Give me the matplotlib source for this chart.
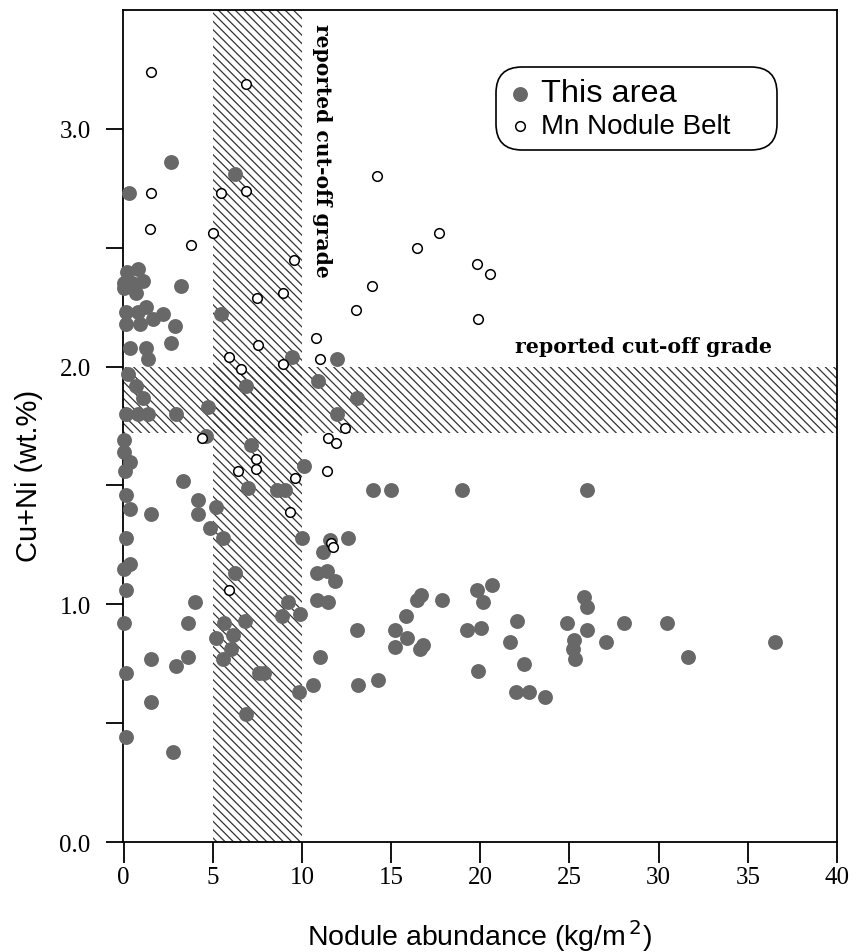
import matplotlib
matplotlib.use("Agg")
import matplotlib.pyplot as plt
from matplotlib.ticker import FixedLocator

plt.rcParams['font.family'] = ['Liberation Sans', 'DejaVu Sans']
plt.rcParams['hatch.linewidth'] = 0.9

# "This area" samples (nodule abundance kg/m2, Cu+Ni wt.%)
this_x = [2.64, 6.25, 0.28, 3.24,
          0.2, 0.8, 1.1, 0.5, 0.05, 0.7, 0.0,
          0.15, 0.79, 1.28, 0.15, 0.90, 1.65, 2.21, 2.87, 2.68, 0.34, 1.28, 1.37,
          5.49, 9.42, 11.95, 10.92, 6.89, 13.07, 4.74, 2.96, 0.24, 0.71, 1.08,
          0.15, 0.80, 1.37, 11.95, 4.65, 7.17, 0.0, 0.0, 0.34, 0.06, 10.14, 3.33,
          6.98, 8.58, 9.04, 0.15, 0.34, 1.56, 4.17, 4.17, 5.17, 4.83, 5.58, 9.98,
          12.60, 11.57, 11.20, 0.15, 0.34, 0.0, 6.24, 10.83, 11.4, 11.85,
          14.01, 14.98, 19.0, 25.99,
          0.15, 3.98, 0.0, 3.61, 1.56, 2.96, 3.61, 0.15, 1.56, 2.77, 0.15,
          10.83, 11.48, 13.1, 11.01, 10.63, 13.15, 5.62, 6.80, 5.21, 6.14, 6.05,
          5.58, 9.23, 9.89, 8.86, 7.6, 7.9, 9.85, 6.84,
          14.25, 16.45, 16.65, 17.85, 15.84, 15.22, 15.88, 15.22, 16.6, 16.8,
          19.81, 20.66, 20.18, 19.25, 20.04, 19.85, 22.06, 21.65, 22.43, 22.02,
          22.71, 23.65, 24.87, 25.24, 25.2, 25.30, 25.84, 25.96, 26.0, 27.05,
          28.05, 30.49, 31.65, 36.52]
this_y = [2.86, 2.81, 2.73, 2.34,
          2.40, 2.41, 2.36, 2.35, 2.35, 2.31, 2.33,
          2.23, 2.23, 2.25, 2.18, 2.18, 2.20, 2.22, 2.17, 2.10, 2.08, 2.08, 2.03,
          2.22, 2.04, 2.03, 1.94, 1.92, 1.87, 1.83, 1.80, 1.97, 1.92, 1.87,
          1.80, 1.80, 1.80, 1.80, 1.71, 1.67, 1.69, 1.64, 1.60, 1.56, 1.58, 1.52,
          1.49, 1.48, 1.48, 1.46, 1.40, 1.38, 1.44, 1.38, 1.41, 1.32, 1.28, 1.28,
          1.28, 1.27, 1.22, 1.28, 1.17, 1.15, 1.13, 1.13, 1.14, 1.10,
          1.48, 1.48, 1.48, 1.48,
          1.06, 1.01, 0.92, 0.92, 0.77, 0.74, 0.78, 0.71, 0.59, 0.38, 0.44,
          1.02, 1.01, 0.89, 0.78, 0.66, 0.66, 0.92, 0.93, 0.86, 0.87, 0.81,
          0.77, 1.01, 0.96, 0.95, 0.71, 0.71, 0.63, 0.54,
          0.68, 1.02, 1.04, 1.02, 0.95, 0.89, 0.86, 0.82, 0.81, 0.83,
          1.06, 1.08, 1.01, 0.89, 0.90, 0.72, 0.93, 0.84, 0.75, 0.63,
          0.63, 0.61, 0.92, 0.85, 0.81, 0.77, 1.03, 0.99, 0.89, 0.84,
          0.92, 0.92, 0.78, 0.84]

# "Mn Nodule Belt" samples
belt_x = [1.56, 6.84, 1.56, 5.45, 6.89, 1.50, 3.76, 5.02, 9.55, 7.50, 8.93,
          13.03, 10.79, 7.51, 5.92, 6.61, 8.95, 11.01, 12.42, 11.48, 11.91,
          4.40, 7.42, 7.40, 6.39, 9.61, 11.39, 9.33, 11.63, 11.76, 5.92,
          14.2, 17.66, 16.44, 19.81, 20.56, 13.92, 19.85]
belt_y = [3.24, 3.19, 2.73, 2.73, 2.74, 2.58, 2.51, 2.56, 2.45, 2.29, 2.31,
          2.24, 2.12, 2.09, 2.04, 1.99, 2.01, 2.03, 1.74, 1.70, 1.68,
          1.70, 1.61, 1.57, 1.56, 1.53, 1.56, 1.39, 1.26, 1.24, 1.06,
          2.80, 2.56, 2.50, 2.43, 2.39, 2.34, 2.20]

cutoff_abundance = (5, 10)
cutoff_grade = (1.72, 2.0)
band_label = "reported cut-off grade"
x_ticks = [0, 5, 10, 15, 20, 25, 30, 35, 40]
y_major = [0.0, 1.0, 2.0, 3.0]
y_minor = [0.5, 1.5, 2.5]

fig = plt.figure(figsize=(8.56, 9.53), dpi=100)
ax = fig.add_axes([0.1433, 0.1154, 0.8345, 0.873])

hatch_col = '#333333'
ax.axvspan(*cutoff_abundance, facecolor='none', edgecolor=hatch_col,
           hatch='\\\\\\\\', linewidth=0, zorder=1)
ax.axhspan(*cutoff_grade, facecolor='none', edgecolor=hatch_col,
           hatch='\\\\\\\\', linewidth=0, zorder=1)

h1 = ax.scatter(this_x, this_y, s=115, c='#686868', linewidths=0,
                zorder=3, label='This area', clip_on=False)
h2 = ax.scatter(belt_x, belt_y, s=48, facecolors='white', edgecolors='black',
                linewidths=1.1, zorder=4, label='Mn Nodule Belt')

ax.text(11.15, 3.445, band_label, rotation=270, ha='center', va='top',
        family='DejaVu Serif', fontweight='bold', fontsize=14.6, zorder=5)
ax.text(21.97, 2.085, band_label, ha='left', va='center',
        family='DejaVu Serif', fontweight='bold', fontsize=14.8, zorder=5)

ax.set_xlim(-0.05, 40)
ax.set_ylim(0, 3.5)

ax.xaxis.set_major_locator(FixedLocator(x_ticks))
ax.set_xticklabels([str(v) for v in x_ticks])
ax.yaxis.set_major_locator(FixedLocator(y_major))
ax.yaxis.set_minor_locator(FixedLocator(y_minor))
ax.set_yticklabels([f"{v:.1f}" for v in y_major])

for lab in ax.get_xticklabels() + ax.get_yticklabels():
    lab.set_family('Liberation Serif')
    lab.set_fontsize(18)

ax.tick_params(axis='x', which='both', direction='out', length=15, width=1.3, pad=2)
ax.tick_params(axis='y', which='both', direction='out', length=12, width=1.3, pad=11)

for sp in ax.spines.values():
    sp.set_linewidth(1.3)

ax.set_xlabel('Nodule abundance (kg/m$^{\\,2}$)', fontsize=20.5)
ax.set_ylabel('Cu+Ni (wt.%)', fontsize=21)
ax.xaxis.label.set_va('baseline')
ax.xaxis.set_label_coords(0.5, -0.124)
ax.yaxis.set_label_coords(-0.112, 0.441)

leg = ax.legend(handles=[h1, h2], loc='upper left',
                bbox_to_anchor=(0.5226, 0.8315, 0.3933, 0.1), mode='expand',
                borderaxespad=0, fontsize=19, handlelength=1.0,
                handletextpad=0.3, borderpad=0.42, labelspacing=0.2,
                frameon=True, fancybox=True, framealpha=1)
frame = leg.get_frame()
frame.set_edgecolor('black')
frame.set_linewidth(1.2)
frame.set_boxstyle('round,pad=0,rounding_size=1.0')
leg.get_texts()[0].set_fontsize(23.4)
leg.get_texts()[1].set_fontsize(20)

fig.savefig('out.png', dpi=100)
